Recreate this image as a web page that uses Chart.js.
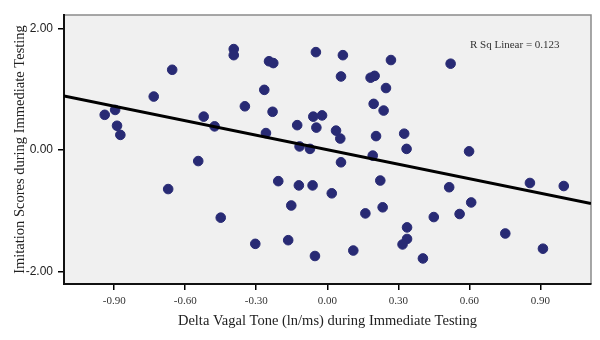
<!DOCTYPE html>
<html>
<head>
<meta charset="utf-8">
<script src="https://cdn.jsdelivr.net/npm/chart.js@4.4.0/dist/chart.umd.min.js"></script>
<style>
  html, body { margin: 0; padding: 0; background: #fff; }
  #wrap { width: 600px; height: 340px; }
</style>
</head>
<body>
<div id="wrap"><canvas id="scatter" width="600" height="340"></canvas></div>
<script>
// delta vagal tone (x) and imitation score (y)
const vagalTone = [
  -0.94, -0.896, -0.888, -0.874, -0.733, -0.655, -0.522, -0.476, -0.395, -0.395,
  -0.348, -0.266, -0.246, -0.228, -0.231, -0.259, -0.127, -0.117, -0.073, -0.059,
  -0.022, -0.046, -0.048, 0.066, 0.058, 0.037, 0.055, 0.183, 0.2, 0.248,
  0.269, 0.196, 0.238, 0.206, 0.325, 0.335, 0.192, 0.521, 0.599, -0.545,
  -0.672, -0.45, -0.207, -0.12, -0.062, 0.058, 0.019, -0.152, 0.224, 0.161,
  0.234, -0.304, -0.165, -0.052, 0.11, 0.337, 0.337, 0.318, 0.404, 0.515,
  0.45, 0.559, 0.608, 0.752, 0.856, 0.999, 0.911
];
const imitation = [
  0.58, 0.66, 0.40, 0.25, 0.88, 1.32, 0.55, 0.39, 1.66, 1.56,
  0.72, 0.99, 1.46, 1.43, 0.63, 0.28, 0.41, 0.06, 0.02, 0.55,
  0.57, 0.37, 1.61, 1.56, 1.21, 0.32, 0.19, 1.19, 1.22, 1.02,
  1.48, 0.76, 0.65, 0.23, 0.27, 0.02, -0.09, 1.42, -0.02, -0.18,
  -0.64, -1.11, -0.51, -0.58, -0.58, -0.20, -0.71, -0.91, -0.50, -1.04,
  -0.94, -1.54, -1.48, -1.74, -1.65, -1.27, -1.46, -1.55, -1.78, -0.61,
  -1.10, -1.05, -0.86, -1.37, -0.54, -0.59, -1.62
];
// fit line ends at the plot edges
const fitX = [-1.112, 1.114];
const fitY = [0.888, -0.877];

const xTicks = [-0.9, -0.6, -0.3, 0, 0.3, 0.6, 0.9];
const yTicks = [-2, 0, 2];
const rSqLabel = 'R Sq Linear = 0.123';

const points = vagalTone.map((v, i) => ({ x: v, y: imitation[i] }));
const fitLine = fitX.map((v, i) => ({ x: v, y: fitY[i] }));

const plotFrame = {
  id: 'plotFrame',
  beforeDraw(chart) {
    const { ctx, chartArea: a } = chart;
    ctx.save();
    ctx.fillStyle = '#f0f0f0';
    ctx.fillRect(a.left, a.top, a.right - a.left, a.bottom - a.top);
    ctx.strokeStyle = '#8a8a8a';
    ctx.lineWidth = 1.5;
    ctx.beginPath();
    ctx.moveTo(a.left, a.top);
    ctx.lineTo(a.right, a.top);
    ctx.lineTo(a.right, a.bottom);
    ctx.stroke();
    ctx.restore();
  },
  afterDatasetsDraw(chart) {
    const { ctx, chartArea: a } = chart;
    ctx.save();
    ctx.fillStyle = '#333';
    ctx.font = '11px "Liberation Serif", serif';
    ctx.textBaseline = 'middle';
    ctx.fillText(rSqLabel, a.right - 121, a.top + 30);
    ctx.restore();
  }
};

new Chart(document.getElementById('scatter'), {
  type: 'scatter',
  data: {
    datasets: [
      {
        type: 'line',
        data: fitLine,
        borderColor: '#000',
        borderWidth: 3,
        pointRadius: 0,
        fill: false
      },
      {
        data: points,
        backgroundColor: '#282a74',
        borderColor: '#282a74',
        pointRadius: 4.8
      }
    ]
  },
  options: {
    responsive: false,
    animation: false,
    events: [],
    layout: { padding: { top: 15, right: 9, left: 0, bottom: 0 } },
    plugins: { legend: { display: false }, tooltip: { enabled: false } },
    scales: {
      x: {
        type: 'linear',
        min: -1.112,
        max: 1.114,
        afterFit: s => { s.height = 56; },
        afterBuildTicks: s => { s.ticks = xTicks.map(v => ({ value: v })); },
        grid: { drawOnChartArea: false, tickLength: 6, color: '#000', lineWidth: 1.5 },
        border: { color: '#111', width: 2 },
        ticks: {
          padding: 5,
          color: '#333',
          font: { family: '"Liberation Serif", serif', size: 11 },
          callback: v => v.toFixed(2)
        },
        title: {
          display: true,
          text: 'Delta Vagal Tone (ln/ms) during Immediate Testing',
          color: '#222',
          font: { family: '"Liberation Serif", serif', size: 14.5 },
          padding: { top: 0, bottom: 10 }
        }
      },
      y: {
        type: 'linear',
        min: -2.2,
        max: 2.22,
        afterFit: s => { s.width = 64; },
        afterBuildTicks: s => { s.ticks = yTicks.map(v => ({ value: v })); },
        grid: { drawOnChartArea: false, tickLength: 6, color: '#000', lineWidth: 1.5 },
        border: { color: '#111', width: 2 },
        ticks: {
          padding: 5,
          color: '#222',
          font: { family: '"Liberation Sans", Arial, sans-serif', size: 12 },
          callback: v => v.toFixed(2)
        },
        title: {
          display: true,
          text: 'Imitation Scores during Immediate Testing',
          color: '#222',
          font: { family: '"Liberation Serif", serif', size: 14.5 },
          padding: { top: 11, bottom: 0 }
        }
      }
    }
  },
  plugins: [plotFrame]
});
</script>
</body>
</html>
